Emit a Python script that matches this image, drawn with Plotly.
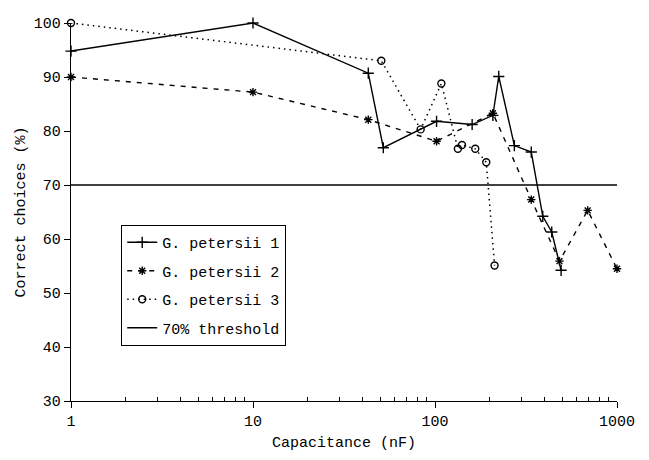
import plotly.graph_objects as go

# Data
s1_x = [1, 10, 43, 52, 102, 160, 208, 224, 273, 338, 391, 438, 493]
s1_y = [94.8, 100, 90.7, 76.9, 81.8, 81.2, 82.9, 90.1, 77.3, 76.1, 64.2, 61.3, 54.2]

s2_x = [1, 10, 43, 102, 208, 338, 483, 690, 1000]
s2_y = [90, 87.2, 82.1, 78.1, 83.3, 67.3, 55.9, 65.3, 54.5]

s3_x = [1, 50.7, 83.4, 108.4, 133.6, 140.7, 166.4, 191.3, 212.5]
s3_y = [100, 93.0, 80.3, 88.8, 76.7, 77.4, 76.7, 74.2, 55.1]

thr_x = [1, 1000]
thr_y = [70, 70]

x_tickvals = [1, 10, 100, 1000]
x_ticktext = ["1", "10", "100", "1000"]
x_minorvals = [m * d for d in (1, 10, 100) for m in range(2, 10)]
y_tickvals = [30, 40, 50, 60, 70, 80, 90, 100]

names = ["G. petersii 1", "G. petersii 2", "G. petersii 3", "70% threshold"]

FONT = "Liberation Mono"

fig = go.Figure()
fig.add_trace(go.Scatter(x=s1_x, y=s1_y, mode="lines+markers", name=names[0],
                         line=dict(color="black", width=1.4, dash="solid"),
                         marker=dict(symbol="cross-thin-open", size=8, color="black",
                                     line=dict(width=1.4, color="black")),
                         legendgroup="a", cliponaxis=False))
fig.add_trace(go.Scatter(x=s2_x, y=s2_y, mode="lines+markers", name=names[1],
                         line=dict(color="black", width=1.4, dash="5px,6px"),
                         marker=dict(symbol="asterisk-open", size=7, color="black",
                                     line=dict(width=1.4, color="black")),
                         legendgroup="b", cliponaxis=False))
fig.add_trace(go.Scatter(x=s3_x, y=s3_y, mode="lines+markers", name=names[2],
                         line=dict(color="black", width=1.5, dash="1.5px,4px"),
                         marker=dict(symbol="circle-open", size=7, color="black",
                                     line=dict(width=1.4, color="black")),
                         legendgroup="c", cliponaxis=False))
fig.add_trace(go.Scatter(x=thr_x, y=thr_y, mode="lines", name=names[3],
                         line=dict(color="black", width=1.4),
                         legendgroup="d", cliponaxis=False))

fig.update_layout(
    width=649, height=460,
    margin=dict(l=71, r=32, t=23, b=55),
    paper_bgcolor="white", plot_bgcolor="white",
    font=dict(family=FONT, size=15, color="black"),
    showlegend=True,
    legend=dict(x=0.0916, y=0.466, xanchor="left", yanchor="top",
                bordercolor="black", borderwidth=1.2, bgcolor="white",
                font=dict(family=FONT, size=15, color="black"),
                tracegroupgap=6, itemwidth=30),
    xaxis=dict(type="log", range=[0, 3], tickvals=x_tickvals, ticktext=x_ticktext,
               showgrid=False, zeroline=False, showline=True, linecolor="black",
               linewidth=1.4, ticks="outside", ticklen=6, tickwidth=1.4,
               tickcolor="black",
               minor=dict(tickvals=x_minorvals, ticks="inside", ticklen=4,
                          tickwidth=1.2, tickcolor="black", showgrid=False),
               title=dict(text="Capacitance (nF)", standoff=6,
                          font=dict(family=FONT, size=15))),
    yaxis=dict(range=[30, 100], tickvals=y_tickvals, showgrid=False, zeroline=False,
               showline=True, linecolor="black", linewidth=1.4, ticks="outside",
               ticklen=6, tickwidth=1.4, tickcolor="black",
               title=dict(text="Correct choices (%)", standoff=4,
                          font=dict(family=FONT, size=15))),
)

fig.write_html("out.html")
